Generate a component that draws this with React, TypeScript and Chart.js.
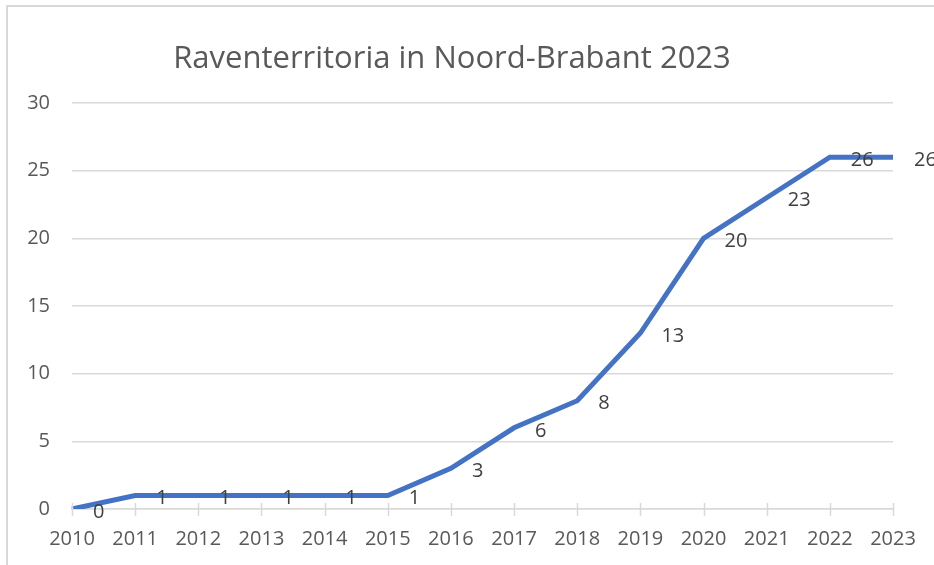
import React, { useEffect, useRef } from "react";
import { Chart, registerables } from "chart.js";

Chart.register(...registerables);

const title = "Raventerritoria in Noord-Brabant 2023";
const years = ["2010", "2011", "2012", "2013", "2014", "2015", "2016", "2017", "2018", "2019", "2020", "2021", "2022", "2023"];
const territories = [0, 1, 1, 1, 1, 1, 3, 6, 8, 13, 20, 23, 26, 26];
const yTicks = [0, 5, 10, 15, 20, 25, 30];

const FONT = "'Open Sans', sans-serif";

const extras = {
  id: "extras",
  afterDraw(chart: any) {
    const ctx = chart.ctx;
    const x = chart.scales.x;
    const y = chart.scales.y;
    const y0 = y.getPixelForValue(0);
    ctx.save();
    ctx.strokeStyle = "#d9d9d9";
    ctx.lineWidth = 1.5;
    for (let i = 0; i < years.length; i++) {
      const px = Math.round(x.getPixelForValue(i)) + 0.5;
      ctx.beginPath();
      ctx.moveTo(px, y0 - 6);
      ctx.lineTo(px, y0 + 7);
      ctx.stroke();
    }
    ctx.fillStyle = "#404040";
    ctx.font = "20px " + FONT;
    ctx.textAlign = "left";
    ctx.textBaseline = "middle";
    const meta = chart.getDatasetMeta(0);
    meta.data.forEach((pt: any, i: number) => {
      ctx.fillText(String(territories[i]), pt.x + 21, pt.y + 3);
    });
    ctx.fillStyle = "#595959";
    ctx.font = "31px " + FONT;
    ctx.textAlign = "center";
    ctx.fillText(title, 452, 59);
    ctx.restore();
  },
};

export default function App() {
  const ref = useRef<HTMLCanvasElement>(null);
  useEffect(() => {
    const chart = new Chart(ref.current!, {
      type: "line",
      data: {
        labels: years,
        datasets: [
          {
            data: territories,
            borderColor: "#4472C4",
            borderWidth: 5,
            pointRadius: 0,
            tension: 0,
            borderJoinStyle: "miter",
          },
        ],
      },
      options: {
        animation: false,
        responsive: false,
        layout: { padding: { top: 103, right: 41, left: 0, bottom: 0 } },
        plugins: { legend: { display: false }, tooltip: { enabled: false }, title: { display: false } },
        scales: {
          x: {
            offset: false,
            grid: { display: false, drawTicks: false },
            border: { display: true, color: "#d9d9d9", width: 1.5 },
            ticks: { color: "#595959", font: { family: FONT, size: 20 }, padding: 18, maxRotation: 0, autoSkip: false },
            afterFit: (s: any) => { s.height = 56; },
          },
          y: {
            min: 0,
            max: 30,
            afterBuildTicks: (s: any) => { s.ticks = yTicks.map((v) => ({ value: v })); },
            grid: { color: "#d9d9d9", lineWidth: 1.5, drawTicks: false },
            border: { display: false },
            ticks: { color: "#595959", font: { family: FONT, size: 20 }, padding: 22 },
            afterFit: (s: any) => { s.width = 72; },
          },
        },
      },
      plugins: [extras],
    });
    return () => chart.destroy();
  }, []);
  return (
    <div style={{ position: "fixed", left: 0, top: 0, width: 934, height: 565, overflow: "hidden", background: "#fff" }}>
      <div style={{ position: "absolute", left: 6, top: 5, width: 1000, height: 1000, border: "2px solid #d9d9d9" }} />
      <canvas ref={ref} width={934} height={565} style={{ position: "absolute", left: 0, top: 0 }} />
    </div>
  );
}
